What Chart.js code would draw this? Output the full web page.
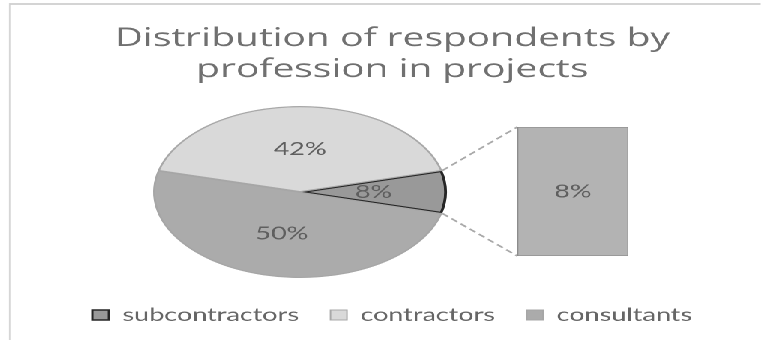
<!DOCTYPE html>
<html>
<head>
  <script src="https://cdn.jsdelivr.net/npm/chart.js"></script>
  <style>
    body { margin: 0; background: #fff; }
    /* the reference picture is stretched sideways, so the whole stage is too */
    #stage { position: relative; width: 507px; height: 340px; transform: scaleX(1.5); transform-origin: 0 0; overflow: hidden; }
    #frame { position: absolute; left: 6px; top: 3px; width: 520px; height: 360px; border-top: 2px solid #d4d4d4; border-left: 1px solid #d0d0d0; }
    #pieCanvas { position: absolute; left: 0; top: 0; }
    #barCanvas { position: absolute; left: 343px; top: 125px; }
  </style>
</head>
<body>
  <div id="stage">
    <div id="frame"></div>
    <canvas id="pieCanvas" width="507" height="340"></canvas>
    <canvas id="barCanvas" width="78" height="133"></canvas>
  </div>

  <script>
    // chart data
    var titleLines = ['Distribution of respondents by', 'profession in projects'];
    var categories = ['subcontractors', 'contractors', 'consultants'];
    var shares = [8, 42, 50];
    var barCategories = ['subcontractors'];
    var barShares = [8];

    var sliceColors = ['#999999', '#d9d9d9', '#ababab'];
    var sliceBorders = ['#262626', '#a8a8a8', '#a6a6a6'];
    var labelFont = '18px Lato';

    // where the squashed pie sits (stage coords)
    var PIE_CX = 200, PIE_CY = 192, PIE_RX = 98, PIE_RY = 86;

    function pct(v, arr) {
      var total = arr.reduce(function(a, b) { return a + b; }, 0);
      return Math.round(v / total * 100) + '%';
    }

    var barCanvas = document.getElementById('barCanvas');
    var barChart = new Chart(barCanvas, {
      type: 'bar',
      data: {
        labels: barCategories,
        datasets: [{
          data: barShares,
          backgroundColor: '#b3b3b3',
          borderColor: '#8c8c8c',
          borderWidth: 1,
          borderSkipped: false,
          barPercentage: 1,
          categoryPercentage: 1
        }]
      },
      options: {
        responsive: false,
        animation: false,
        devicePixelRatio: 2,
        layout: { padding: 2 },
        scales: {
          x: { display: false },
          y: { display: false, min: 0, max: barShares.reduce(function(a, b) { return a + b; }, 0) }
        },
        plugins: { legend: { display: false }, tooltip: { enabled: false } }
      },
      plugins: [{
        id: 'barLabel',
        afterDatasetsDraw: function(chart) {
          var ctx = chart.ctx;
          chart.getDatasetMeta(0).data.forEach(function(bar, i) {
            ctx.save();
            ctx.font = labelFont;
            ctx.fillStyle = '#5f5f5f';
            ctx.textAlign = 'center';
            ctx.textBaseline = 'middle';
            ctx.fillText(pct(shares[0], shares), bar.x, (bar.y + bar.base) / 2);
            ctx.restore();
          });
        }
      }]
    });

    // map a point of the round pie onto the squashed one (flipped so slices run anticlockwise)
    function pieMap(chart, x, y) {
      var arc = chart.getDatasetMeta(0).data[0];
      var r = arc.outerRadius;
      return { x: PIE_CX + (x - arc.x) * PIE_RX / r, y: PIE_CY - (y - arc.y) * PIE_RY / r };
    }

    var ellipsePie = {
      id: 'ellipsePie',
      beforeDatasetsDraw: function(chart) {
        var arc = chart.getDatasetMeta(0).data[0];
        var r = arc.outerRadius;
        var ctx = chart.ctx;
        ctx.save();
        ctx.translate(PIE_CX, PIE_CY);
        ctx.scale(PIE_RX / r, -PIE_RY / r);
        ctx.translate(-arc.x, -arc.y);
      },
      afterDatasetsDraw: function(chart) {
        var ctx = chart.ctx;
        ctx.restore();
        var arcs = chart.getDatasetMeta(0).data;

        // dashed connectors from the split slice to the bar
        var sub = arcs[0];
        var p1 = pieMap(chart, sub.x + sub.outerRadius * Math.cos(sub.startAngle), sub.y + sub.outerRadius * Math.sin(sub.startAngle));
        var p2 = pieMap(chart, sub.x + sub.outerRadius * Math.cos(sub.endAngle), sub.y + sub.outerRadius * Math.sin(sub.endAngle));
        var upper = p1.y < p2.y ? p1 : p2;
        var lower = p1.y < p2.y ? p2 : p1;
        var bar = barChart.getDatasetMeta(0).data[0];
        var bx = barCanvas.offsetLeft + bar.x - bar.width / 2;
        var bTop = barCanvas.offsetTop + bar.y;
        var bBot = barCanvas.offsetTop + bar.base;
        ctx.save();
        ctx.strokeStyle = '#a9a9a9';
        ctx.lineWidth = 1.5;
        ctx.setLineDash([5, 3]);
        ctx.beginPath();
        ctx.moveTo(upper.x, upper.y);
        ctx.lineTo(bx, bTop);
        ctx.moveTo(lower.x, lower.y);
        ctx.lineTo(bx, bBot);
        ctx.stroke();
        ctx.restore();

        // percentage labels
        ctx.save();
        ctx.font = labelFont;
        ctx.fillStyle = '#5f5f5f';
        ctx.textAlign = 'center';
        ctx.textBaseline = 'middle';
        arcs.forEach(function(a, i) {
          var tp = a.tooltipPosition();
          var p = pieMap(chart, tp.x, tp.y);
          ctx.fillText(pct(shares[i], shares), p.x, p.y);
        });
        ctx.restore();
      }
    };

    new Chart(document.getElementById('pieCanvas'), {
      type: 'pie',
      data: {
        labels: categories,
        datasets: [{
          data: shares,
          backgroundColor: sliceColors,
          borderColor: sliceBorders,
          borderWidth: [1.5, 1, 1],
          borderAlign: 'inner',
          clip: false
        }]
      },
      options: {
        responsive: false,
        animation: false,
        devicePixelRatio: 2,
        rotation: 90 - shares[0] / 2 * 3.6,
        layout: { padding: { left: 16, right: 0, top: 0, bottom: 6 } },
        plugins: {
          title: {
            display: true,
            text: titleLines,
            color: '#707070',
            font: { family: 'Open Sans', size: 26, weight: 'normal', lineHeight: 1.2 },
            padding: { top: 23, bottom: 8 }
          },
          legend: {
            position: 'bottom',
            labels: {
              color: '#666666',
              font: { family: 'Lato', size: 18 },
              boxWidth: 11,
              boxHeight: 10,
              padding: 21
            }
          },
          tooltip: { enabled: false }
        }
      },
      plugins: [ellipsePie]
    });
  </script>
</body>
</html>
